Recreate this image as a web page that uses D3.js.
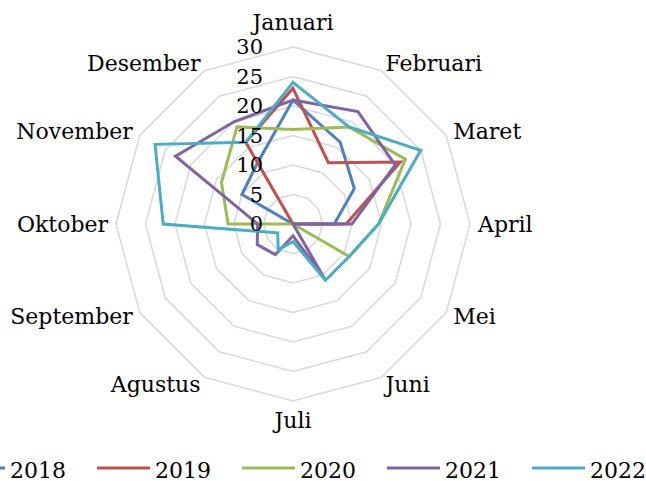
<!DOCTYPE html>
<html>
<head>
<meta charset="utf-8">
<script src="https://cdn.jsdelivr.net/npm/d3@7"></script>
<style>
  body { margin: 0; background: #fff; }
  text { font-family: "DejaVu Serif", serif; fill: #000; }
</style>
</head>
<body>
<div id="chart"></div>
<script>
var months = ["Januari", "Februari", "Maret", "April", "Mei", "Juni",
              "Juli", "Agustus", "September", "Oktober", "November", "Desember"];
var years = ["2018", "2019", "2020", "2021", "2022"];
var ticks = [0, 5, 10, 15, 20, 25, 30];

var v2018 = [21, 16, 12, 7, 0, 0, 0, 0, 0, 0, 10, 12];
var v2019 = [23, 12, 21, 9, 0, 0, 0, 0, 0, 0, 0, 16];
var v2020 = [16, 19, 22, 14.5, 11, 0, 0, 0, 0, 11, 14, 19];
var v2021 = [21, 22, 20, 10, 0, 11, 2, 6, 7, 6, 23, 20];
var v2022 = [24, 19, 25, 14.5, 11, 11, 3, 5, 3, 22, 27, 16];

var series = [v2018, v2019, v2020, v2021, v2022];
var colors = ["#4f81bd", "#c0504d", "#9bbb59", "#8064a2", "#4bacc6"];

var width = 646, height = 481;
var cx = 293, cy = 224, radius = 177;

var svg = d3.select("#chart")
  .append("svg")
  .attr("width", width)
  .attr("height", height);

var r = d3.scaleLinear().domain([0, 30]).range([0, radius]);
var angle = d3.scaleBand().domain(months).range([0, 2 * Math.PI]);

var plot = svg.append("g")
  .attr("transform", "translate(" + cx + "," + cy + ")");

// grid rings
var ring = d3.lineRadial()
  .angle(function (d) { return angle(d); })
  .curve(d3.curveLinearClosed);

plot.selectAll(".ring")
  .data(ticks.filter(function (t) { return t > 0; }))
  .enter()
  .append("path")
  .attr("class", "ring")
  .attr("d", function (t) { return ring.radius(r(t))(months); })
  .attr("fill", "none")
  .attr("stroke", "#d9d9d9")
  .attr("stroke-width", 1.5);

// series
var line = d3.lineRadial()
  .angle(function (d, i) { return angle(months[i]); })
  .radius(function (d) { return r(d); })
  .curve(d3.curveLinearClosed);

plot.selectAll(".series")
  .data(series)
  .enter()
  .append("path")
  .attr("class", "series")
  .attr("d", function (d) { return line(d); })
  .attr("fill", "none")
  .attr("stroke", function (d, i) { return colors[i]; })
  .attr("stroke-width", 3)
  .attr("stroke-linejoin", "miter");

// value labels
plot.selectAll(".tick")
  .data(ticks)
  .enter()
  .append("text")
  .attr("class", "tick")
  .attr("x", -30)
  .attr("y", function (t) { return -r(t); })
  .attr("text-anchor", "end")
  .attr("dominant-baseline", "central")
  .style("font-size", "21px")
  .text(function (t) { return t; });

// month labels
var labelR = 185;
plot.selectAll(".month")
  .data(months)
  .enter()
  .append("text")
  .attr("class", "month")
  .attr("x", function (m) { return labelR * Math.sin(angle(m)); })
  .attr("y", function (m) {
    var c = Math.cos(angle(m));
    var y = -labelR * c;
    if (c > 0.9) y -= 17;
    if (c < -0.9) y += 11;
    return y;
  })
  .attr("text-anchor", function (m) {
    var s = Math.sin(angle(m));
    return s > 0.1 ? "start" : (s < -0.1 ? "end" : "middle");
  })
  .attr("dominant-baseline", "central")
  .style("font-size", "22px")
  .text(function (m) { return m; });

// legend
var legend = svg.append("g").attr("class", "legend");
var item = legend.selectAll(".item")
  .data(years)
  .enter()
  .append("g")
  .attr("transform", function (d, i) { return "translate(" + (-48 + 145 * i) + ",468)"; });

item.append("line")
  .attr("x1", 0).attr("x2", 53)
  .attr("y1", 0).attr("y2", 0)
  .attr("stroke", function (d, i) { return colors[i]; })
  .attr("stroke-width", 3);

item.append("text")
  .attr("x", 58)
  .attr("y", 2)
  .attr("dominant-baseline", "central")
  .style("font-size", "22px")
  .text(function (d) { return d; });
</script>
</body>
</html>
